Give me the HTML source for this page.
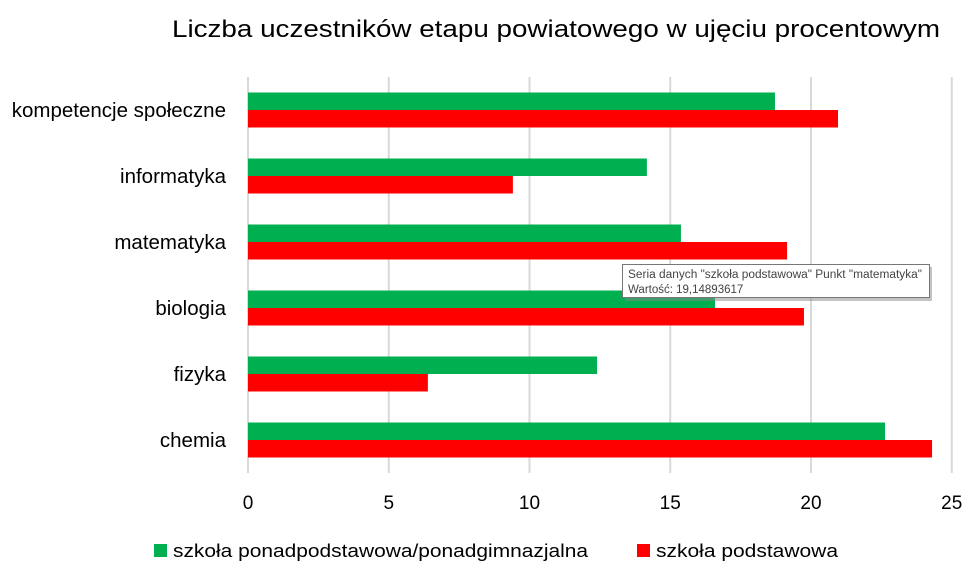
<!DOCTYPE html>
<html><head><meta charset="utf-8"><style>
body{margin:0;background:#fff;width:977px;height:581px;overflow:hidden;font-family:"Liberation Sans",sans-serif}
svg text{font-family:"Liberation Sans","DejaVu Sans",sans-serif}
</style></head><body>
<svg id="chart" width="977" height="581">
<text x="172" y="37" font-size="24" textLength="768" lengthAdjust="spacingAndGlyphs" fill="#000">Liczba uczestników etapu powiatowego w ujęciu procentowym</text>
<g id="grid"></g><g id="bars"></g><g id="ylab"></g><g id="xlab"></g>
<g>
<rect x="154" y="544" width="13" height="13" fill="#00B050"/>
<text x="173" y="557" font-size="18" textLength="415" lengthAdjust="spacingAndGlyphs" fill="#000">szkoła ponadpodstawowa/ponadgimnazjalna</text>
<rect x="637" y="544" width="13" height="13" fill="#FF0000"/>
<text x="656" y="557" font-size="18" textLength="182" lengthAdjust="spacingAndGlyphs" fill="#000">szkoła podstawowa</text>
</g>
<g id="tip">
<rect x="625" y="267" width="307" height="34" fill="#888" opacity="0.5"/>
<rect x="622.5" y="264.5" width="307" height="33" fill="#fff" stroke="#777"/>
<text x="628" y="278" font-size="11.5" textLength="294" lengthAdjust="spacingAndGlyphs" fill="#444">Seria danych "szkoła podstawowa" Punkt "matematyka"</text>
<text x="628" y="293" font-size="11.5" fill="#444">Wartość: 19,14893617</text>
</g>
</svg>
<script>
const categories=["kompetencje społeczne","informatyka","matematyka","biologia","fizyka","chemia"];
const ponadpodstawowa=[18.72,14.17,15.38,16.59,12.4,22.63];
const podstawowa=[20.96,9.41,19.15,19.75,6.39,24.3];
const ticks=[0,5,10,15,20,25];
const NS="http://www.w3.org/2000/svg";
const xs=v=>248+v*28.15;
const plotTop=77,plotBottom=473,band=(plotBottom-plotTop)/categories.length;
const ys=i=>plotTop+band*i+band/2;
function mk(t,a,p){const e=document.createElementNS(NS,t);for(const k in a)e.setAttribute(k,a[k]);p.appendChild(e);return e;}
const grid=document.getElementById('grid'),bars=document.getElementById('bars'),yl=document.getElementById('ylab'),xl=document.getElementById('xlab');
ticks.forEach(t=>{
 const l=mk('line',{x1:xs(t),x2:xs(t),y1:plotTop,y2:plotBottom,stroke:'#d9d9d9','stroke-width':2},grid);
 
 
 const tx=mk('text',{x:xs(t),y:509,'font-size':19,'text-anchor':'middle',fill:'#000'},xl);
 tx.textContent=t;
 
 
});
categories.forEach((c,i)=>{
 const g=mk('rect',{x:xs(0),y:ys(i)-17.5,width:xs(ponadpodstawowa[i])-xs(0),height:17.5,fill:'#00B050'},bars);
 
 
 const r=mk('rect',{x:xs(0),y:ys(i),width:xs(podstawowa[i])-xs(0),height:17.5,fill:'#FF0000'},bars);
 
 
 const t=mk('text',{x:226,y:ys(i)+7,'font-size':20.5,'text-anchor':'end',fill:'#000'},yl);
 t.textContent=c;
 
 
});
document.getElementById('chart').appendChild(document.getElementById('tip'));
</script>
</body></html>
